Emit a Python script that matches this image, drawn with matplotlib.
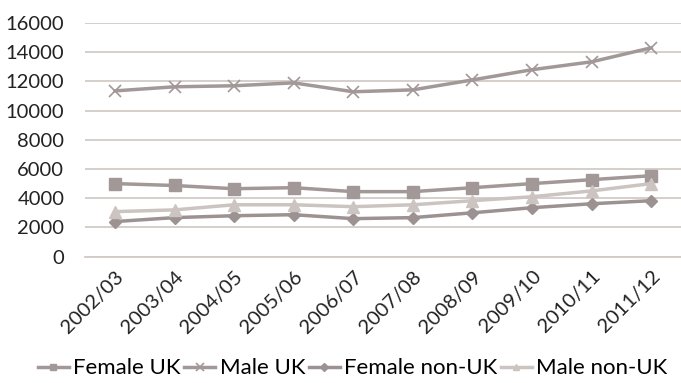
import matplotlib.pyplot as plt

plt.rcParams['font.family'] = ['Lato', 'DejaVu Sans']

years = ["2002/03", "2003/04", "2004/05", "2005/06", "2006/07",
         "2007/08", "2008/09", "2009/10", "2010/11", "2011/12"]
female_uk = [5000, 4870, 4650, 4720, 4450, 4450, 4720, 5000, 5270, 5540]
male_uk = [11350, 11630, 11700, 11900, 11290, 11420, 12100, 12800, 13340, 14300]
female_non_uk = [2400, 2670, 2800, 2870, 2600, 2670, 3000, 3350, 3620, 3830]
male_non_uk = [3080, 3200, 3550, 3550, 3420, 3550, 3830, 4100, 4500, 5000]

fig = plt.figure(figsize=(6.81, 3.83), dpi=100)
ax = fig.add_axes([0.125, 0.33, 0.875, 0.61])

x = range(len(years))
ax.plot(x, female_uk, color="#a29898", lw=2.5, marker="s", ms=8, label="Female UK")
ax.plot(x, male_uk, color="#a29898", lw=2.5, marker="x", ms=9, mew=1.2, label="Male UK")
ax.plot(x, female_non_uk, color="#9c9292", lw=2.5, marker="D", ms=6.5, label="Female non-UK")
ax.plot(x, male_non_uk, color="#cbc4c0", lw=2.5, marker="^", ms=8, label="Male non-UK")

ax.set_xlim(-0.5, len(years) - 0.5)
ax.set_ylim(0, 16000)
ax.set_yticks(range(0, 16001, 2000))
ax.set_xticks(list(x))
ax.set_xticklabels(years, rotation=45, ha="right", rotation_mode="anchor")
ax.tick_params(axis="both", length=0, labelsize=14.5, colors="#222222")
ax.tick_params(axis="y", pad=15)
ax.tick_params(axis="x", pad=8)
ax.grid(axis="y", color="#d2cbc8", lw=1.3)
ax.set_axisbelow(True)
for s in ["top", "right", "left"]:
    ax.spines[s].set_visible(False)
ax.spines["bottom"].set_color("#d2cbc8")
ax.spines["bottom"].set_linewidth(1.3)

fig.legend(loc="center", bbox_to_anchor=(0.518, 0.038), ncol=4, frameon=False,
           fontsize=16, handlelength=1.4, columnspacing=0.15, handletextpad=0.2,
           markerscale=0.6)

fig.savefig("out.png", dpi=100)
